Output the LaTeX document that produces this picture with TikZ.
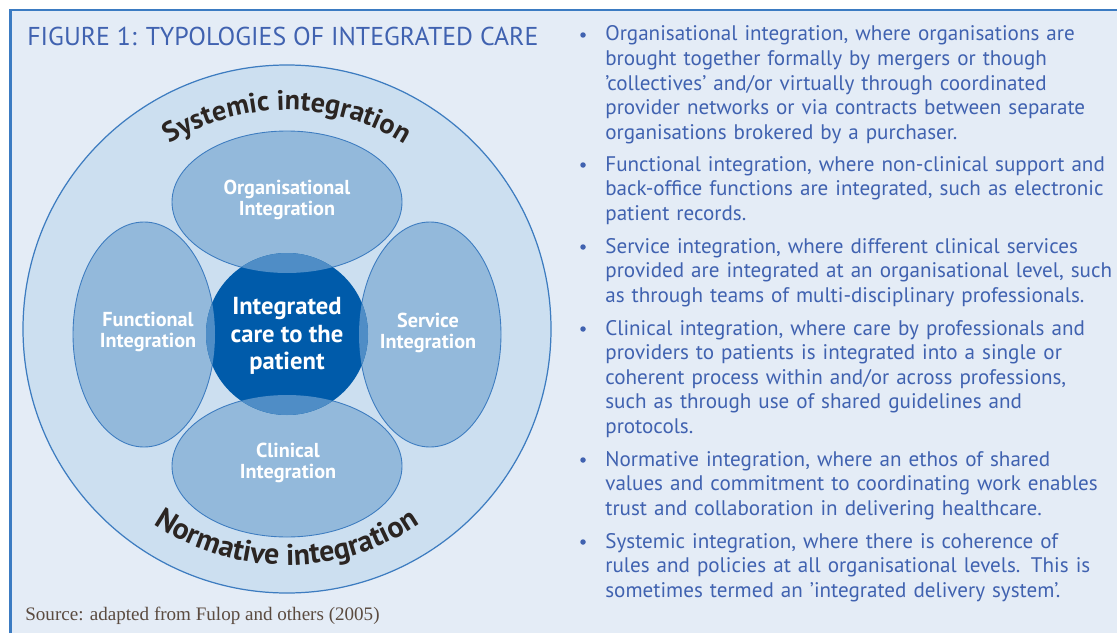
\documentclass[tikz,border=0pt]{standalone}
\usepackage{fontspec}
\setmainfont{PT Sans}
\newfontfamily\qfont{Liberation Serif}
\usetikzlibrary{decorations.text}
\definecolor{rahmen}{HTML}{3B7BC2}
\definecolor{grund}{HTML}{E4ECF6}
\definecolor{ring}{HTML}{CCDFF0}
\definecolor{oval}{HTML}{93B9DB}
\definecolor{schnitt}{HTML}{4F8DC6}
\definecolor{kern}{HTML}{005BAA}
\definecolor{linie}{HTML}{3D7CC0}
\definecolor{blau}{HTML}{4062B0}
\definecolor{dunkel}{HTML}{2B2522}
\definecolor{braun}{HTML}{5B4B40}
\tikzset{
  rand/.style={rahmen,line width=1.2pt},
  ovalf/.style={fill=oval},
  ovalr/.style={draw=linie,line width=0.5pt},
  lab/.style={white,font=\bfseries\fontsize{11.5}{11.6}\selectfont,align=center,inner sep=0pt},
  mitte/.style={white,font=\bfseries\fontsize{14}{15.6}\selectfont,align=center,inner sep=0pt},
  punkt/.style={text=blau,font=\fontsize{12}{14}\selectfont,text width=10.2cm,align=left,anchor=base west,inner sep=0pt},
  bogen/.style 2 args={decorate,decoration={text along path,text align=center,
      text={|\bfseries\fontsize{#1}{#1}\selectfont\color{dunkel}|#2}}},
}

\begin{document}
\begin{tikzpicture}
  \useasboundingbox (0,0) rectangle (22.34,12.66);
  \fill[white] (0,0) rectangle (22.34,12.66);
  \fill[grund] (0.21,0) rectangle (22.34,12.46);
  \draw[rand] (0.21,0) -- (0.21,12.46) -- (22.34,12.46);

  \node[anchor=base west,inner sep=0pt,text=blau,font=\fontsize{14.7}{16}\selectfont]
    (titel) at (0.54,11.74) {FIGURE 1: TYPOLOGIES OF INTEGRATED CARE};

  % ring
  \draw[fill=ring,draw=linie,line width=0.7pt] (5.74,6.08) circle (5.28);
  % vier Ovale um den Kern
  \foreach \x/\y/\a/\b in {5.74/8.62/2.30/1.42, 5.74/3.34/2.30/1.42,
                           2.88/5.97/1.42/2.25, 8.60/5.97/1.42/2.25}{
    \fill[ovalf] (\x,\y) ellipse [x radius=\a, y radius=\b];}
  \foreach \x/\y/\a/\b in {5.74/8.62/2.30/1.42, 5.74/3.34/2.30/1.42,
                           2.88/5.97/1.42/2.25, 8.60/5.97/1.42/2.25}{
    \draw[ovalr] (\x,\y) ellipse [x radius=\a, y radius=\b];}
  \fill[kern] (5.74,5.98) circle (1.62);
  \begin{scope}
    \clip (5.74,5.98) circle (1.62);
    \foreach \x/\y/\a/\b in {5.74/8.62/2.30/1.42, 5.74/3.34/2.30/1.42,
                             2.88/5.97/1.42/2.25, 8.60/5.97/1.42/2.25}{
      \fill[schnitt] (\x,\y) ellipse [x radius=\a, y radius=\b];}
  \end{scope}

  \node[lab] (org) at (5.74,8.66) {Organisational\\Integration};
  \node[lab] (fkt) at (2.96,6.02) {Functional\\Integration};
  \node[lab] (dst) at (8.56,6.00) {Service\\Integration};
  \node[lab] (klin) at (5.76,3.40) {Clinical\\Integration};
  \node[mitte] (pat) at (5.74,5.94) {Integrated\\care to the\\patient};

  % Schrift am Ring
  \begin{scope}[shift={(5.74,6.08)}]
    \path[bogen={16}{Systemic integration}] (150:4.38) arc[start angle=150,end angle=30,radius=4.38];
    \path[bogen={17}{Normative integration}] (210:4.72) arc[start angle=210,end angle=330,radius=4.72];
  \end{scope}

  \foreach \y/\t [count=\i] in {
    11.84/{Organisational integration, where organisations are\\brought together formally by mergers or though\\’collectives’ and/or virtually through coordinated\\provider networks or via contracts between separate\\organisations brokered by a purchaser.},
    9.24/{Functional integration, where non-clinical support and\\back-office functions are integrated, such as electronic\\patient records.},
    7.60/{Service integration, where different clinical services\\provided are integrated at an organisational level, such\\as through teams of multi-disciplinary professionals.},
    5.96/{Clinical integration, where care by professionals and\\providers to patients is integrated into a single or\\coherent process within and/or across professions,\\such as through use of shared guidelines and\\protocols.},
    3.34/{Normative integration, where an ethos of shared\\values and commitment to coordinating work enables\\trust and collaboration in delivering healthcare.},
    1.70/{Systemic integration, where there is coherence of\\rules and policies at all organisational levels. This is\\sometimes termed an ’integrated delivery system’.}}{
    \node[punkt] (p\i) at (12.10,\y) {\t};
    \fill[blau] (p\i.base west) ++(-0.44,0.12) circle (0.055);}

  \node[anchor=base west,inner sep=0pt,text=braun,font=\qfont\fontsize{10.85}{13}\selectfont]
    (quelle) at (0.50,0.26) {Source: adapted from Fulop and others (2005)};
\end{tikzpicture}
\end{document}
